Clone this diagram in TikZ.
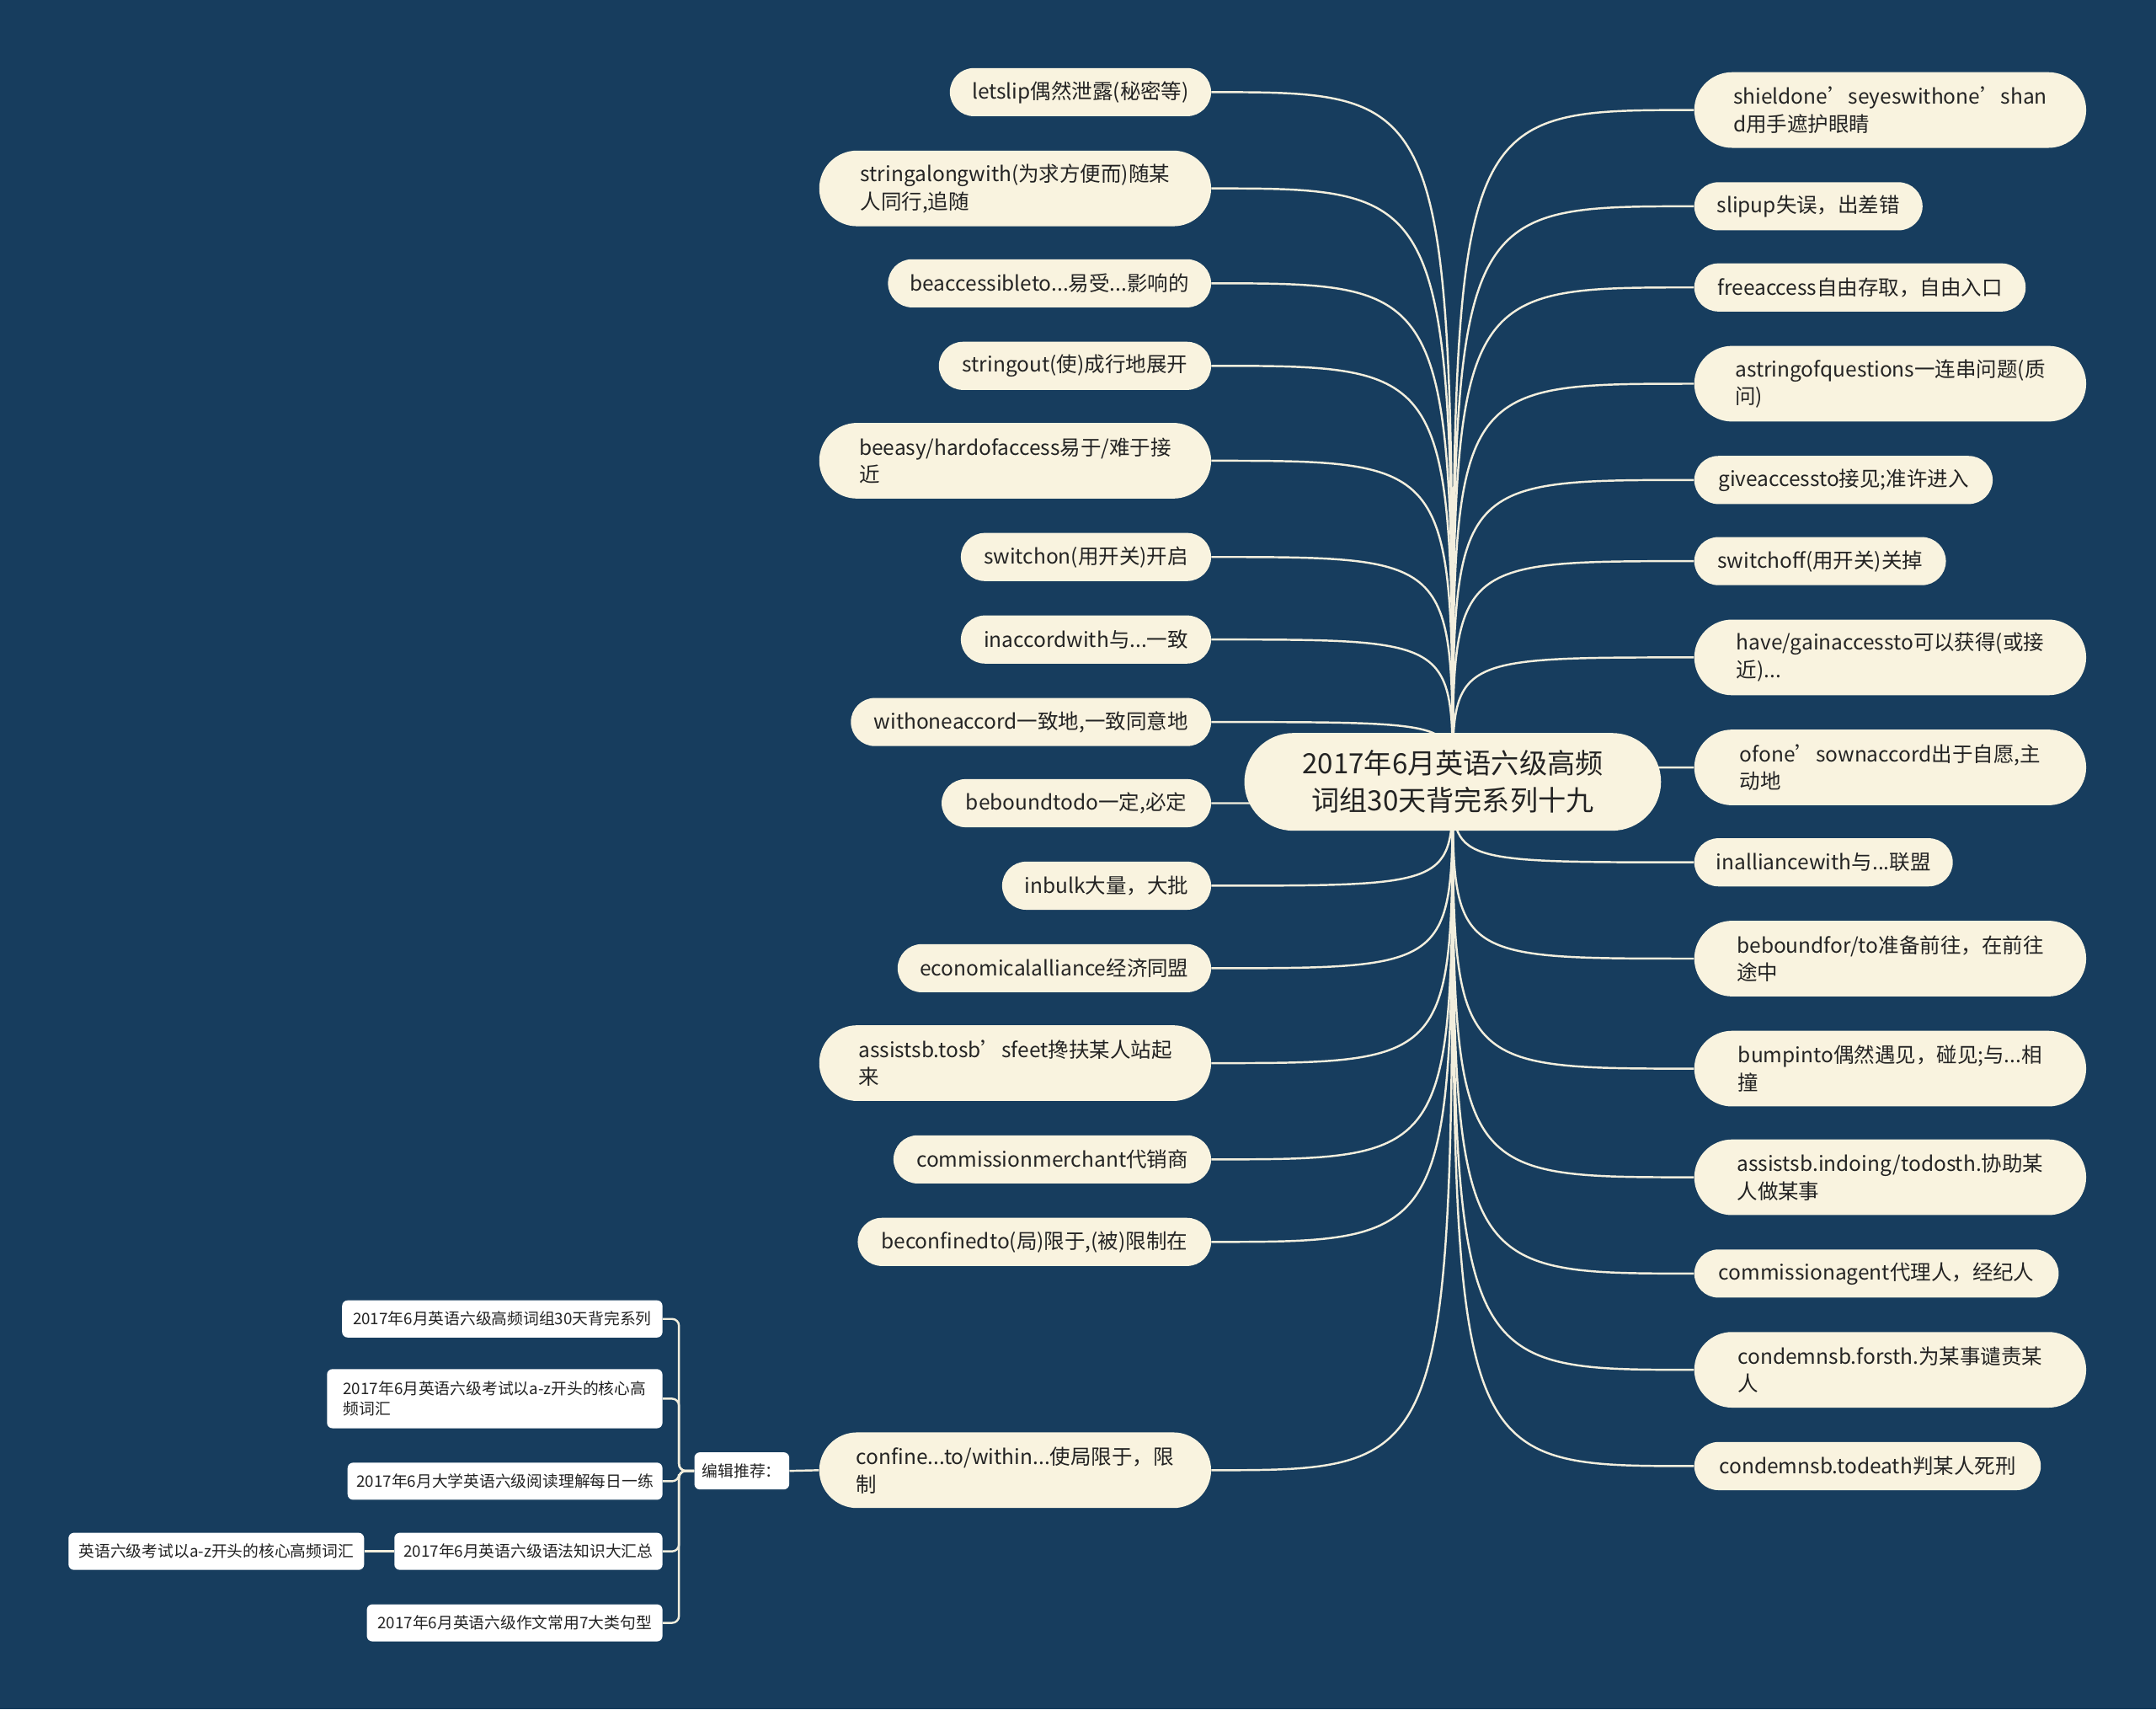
\documentclass[tikz,border=0pt]{standalone}
\usepackage{fontspec}
\setmainfont{Noto Sans CJK SC}
\usepackage{tikz}

\definecolor{navy}{HTML}{173D5E}
\definecolor{cream}{HTML}{F9F3DF}
\definecolor{ink}{HTML}{232323}
\definecolor{wirecol}{HTML}{F2EEDD}

\pgfdeclarelayer{back}
\pgfdeclarelayer{wires}
\pgfsetlayers{back,wires,main}

\tikzset{
    leaf/.style={fill=cream, text=ink, rounded corners=17.5, minimum height=35,
        inner xsep=4, inner ysep=2, align=left, font=\fontsize{15}{20}\selectfont},
    leaftwo/.style={leaf, rounded corners=27.5, minimum height=55},
    root/.style={fill=cream, text=ink, rounded corners=35.5, minimum height=71,
        minimum width=303, align=center, font=\fontsize{20.3}{27}\selectfont},
    tag/.style={fill=white, text=ink, rounded corners=4, minimum height=27,
        inner xsep=4, align=left, font=\fontsize{11.5}{15}\selectfont},
    wire/.style={draw=wirecol, line width=1.5},
    tie/.style={draw=wirecol, line width=1.5, rounded corners=5}
}

\begin{document}
\begin{tikzpicture}[x=1pt, y=-1pt]
    % Background
    \begin{pgfonlayer}{back}
        \fill[navy] (0,0) rectangle (1568,1243);
    \end{pgfonlayer}

    % Central topic
    \node[root] (root) at (1056.5,568.5) {2017年6月英语六级高频\\词组30天背完系列十九};

    % Left branch
    \node[leaf, anchor=east, minimum width=190] (l1) at (881,67) {letslip偶然泄露(秘密等)};
    \node[leaftwo, anchor=east, minimum width=285] (l2) at (881,137) {stringalongwith(为求方便而)随某\\人同行,追随};
    \node[leaf, anchor=east, minimum width=235] (l3) at (881,206) {beaccessibleto...易受...影响的};
    \node[leaf, anchor=east, minimum width=198] (l4) at (881,266) {stringout(使)成行地展开};
    \node[leaftwo, anchor=east, minimum width=285] (l5) at (881,335) {beeasy/hardofaccess易于/难于接\\近};
    \node[leaf, anchor=east, minimum width=182] (l6) at (881,405) {switchon(用开关)开启};
    \node[leaf, anchor=east, minimum width=182] (l7) at (881,465) {inaccordwith与...一致};
    \node[leaf, anchor=east, minimum width=262] (l8) at (881,525) {withoneaccord一致地,一致同意地};
    \node[leaf, anchor=east, minimum width=196] (l9) at (881,584) {beboundtodo一定,必定};
    \node[leaf, anchor=east, minimum width=152] (l10) at (881,644) {inbulk大量，大批};
    \node[leaf, anchor=east, minimum width=228] (l11) at (881,704) {economicalalliance经济同盟};
    \node[leaftwo, anchor=east, minimum width=285] (l12) at (881,773) {assistsb.tosb’sfeet搀扶某人站起\\来};
    \node[leaf, anchor=east, minimum width=231] (l13) at (881,843) {commissionmerchant代销商};
    \node[leaf, anchor=east, minimum width=257] (l14) at (881,903) {beconfinedto(局)限于,(被)限制在};
    \node[leaftwo, anchor=east, minimum width=285] (l15) at (881,1069) {confine...to/within...使局限于，限\\制};

    % Right branch
    \node[leaftwo, anchor=west, minimum width=285] (r1) at (1232,80) {shieldone’seyeswithone’shan\\d用手遮护眼睛};
    \node[leaf, anchor=west, minimum width=166] (r2) at (1232,150) {slipup失误，出差错};
    \node[leaf, anchor=west, minimum width=241] (r3) at (1232,209) {freeaccess自由存取，自由入口};
    \node[leaftwo, anchor=west, minimum width=285] (r4) at (1232,279) {astringofquestions一连串问题(质\\问)};
    \node[leaf, anchor=west, minimum width=217] (r5) at (1232,349) {giveaccessto接见;准许进入};
    \node[leaf, anchor=west, minimum width=183] (r6) at (1232,408) {switchoff(用开关)关掉};
    \node[leaftwo, anchor=west, minimum width=285] (r7) at (1232,478) {have/gainaccessto可以获得(或接\\近)...};
    \node[leaftwo, anchor=west, minimum width=285] (r8) at (1232,558) {ofone’sownaccord出于自愿,主\\动地};
    \node[leaf, anchor=west, minimum width=188] (r9) at (1232,627) {inalliancewith与...联盟};
    \node[leaftwo, anchor=west, minimum width=285] (r10) at (1232,697) {beboundfor/to准备前往，在前往\\途中};
    \node[leaftwo, anchor=west, minimum width=285] (r11) at (1232,777) {bumpinto偶然遇见，碰见;与...相\\撞};
    \node[leaftwo, anchor=west, minimum width=285] (r12) at (1232,856) {assistsb.indoing/todosth.协助某\\人做某事};
    \node[leaf, anchor=west, minimum width=265] (r13) at (1232,926) {commissionagent代理人，经纪人};
    \node[leaftwo, anchor=west, minimum width=285] (r14) at (1232,996) {condemnsb.forsth.为某事谴责某\\人};
    \node[leaf, anchor=west, minimum width=252] (r15) at (1232,1066) {condemnsb.todeath判某人死刑};

    % Editor picks
    \node[tag, minimum width=69] (ed) at (539.5,1069.5) {编辑推荐：};
    \node[tag, anchor=east, minimum width=233] (s1) at (482,959) {2017年6月英语六级高频词组30天背完系列};
    \node[tag, anchor=east, minimum width=244, minimum height=43] (s2) at (482,1017) {2017年6月英语六级考试以a-z开头的核心高\\频词汇};
    \node[tag, anchor=east, minimum width=229] (s3) at (482,1077) {2017年6月大学英语六级阅读理解每日一练};
    \node[tag, anchor=east, minimum width=195] (s4) at (482,1128) {2017年6月英语六级语法知识大汇总};
    \node[tag, anchor=east, minimum width=215] (s5) at (482,1180) {2017年6月英语六级作文常用7大类句型};
    \node[tag, anchor=east, minimum width=215] (s6) at (265,1128) {英语六级考试以a-z开头的核心高频词汇};
    \coordinate (fork) at ([xshift=-11]ed.west);

    % Connections
    \begin{pgfonlayer}{wires}
        \foreach \i in {1,...,15} {
            \draw[wire] (root.center) .. controls (root.center |- l\i.east) .. (l\i.east);
            \draw[wire] (root.center) .. controls (root.center |- r\i.west) .. (r\i.west);
        }
        \draw[wire] (l15.west) -- (ed.east);
        \foreach \i in {1,...,5} {
            \draw[tie] (ed.west) -- (fork) |- (s\i.east);
        }
        \draw[tie] (s6.east) -- (s4.west);
    \end{pgfonlayer}
\end{tikzpicture}
\end{document}
